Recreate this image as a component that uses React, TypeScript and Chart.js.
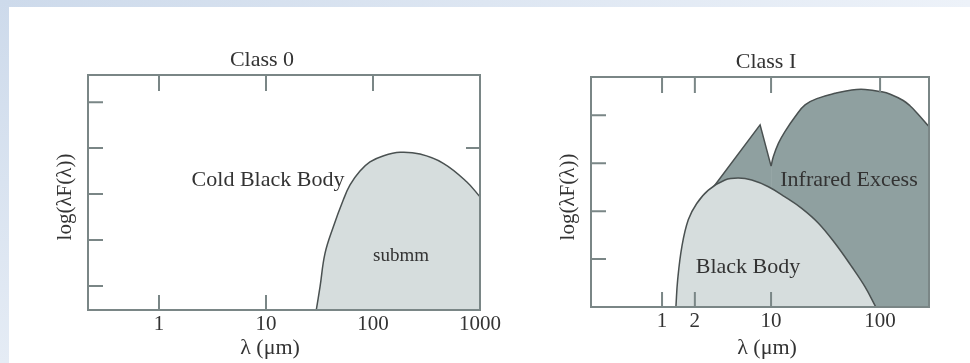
import React, { useEffect, useRef } from "react";
import { Chart, registerables } from "chart.js";

Chart.register(...registerables);

const SERIF = '"Liberation Serif", "Times New Roman", serif';
const TEXT = "#333333";
const FRAME = "#7a8686";
const LINE = "#4a5151";
const LIGHT = "#d6dddd";
const DARK = "#8fa0a0";

// ---- Class 0 ----
const class0XTicks = [1, 10, 100, 1000];
const class0TopTicks = [1, 10, 100];
const class0BottomTicks = [1, 10];
const class0LeftTicks = [1, 2, 3, 4, 5];
const class0RightTicks = [4];
const class0Lambda = [29.5, 32.0, 35.6, 42.6, 52.7, 61.0, 75.6, 93.7, 124, 179, 275, 454, 750, 1000];
const class0Flux = [0.48, 0.99, 1.71, 2.29, 2.87, 3.2, 3.5, 3.7, 3.83, 3.91, 3.87, 3.67, 3.27, 2.94];

// ---- Class I ----
const class1XTicks = [1, 2, 10, 100];
const class1TopTicks = [1, 2, 10, 100];
const class1BottomTicks = [1, 2, 10];
const class1LeftTicks = [1, 2, 3, 4];
const class1RightTicks: number[] = [];
const class1BBLambda = [1.34, 1.39, 1.52, 1.74, 2.08, 2.66, 3.78, 5.01, 6.65, 9.45, 13.4, 19.1, 27.2, 38.6, 55.0, 72.8, 91.4];
const class1BBFlux = [0, 0.56, 1.26, 1.82, 2.16, 2.44, 2.65, 2.69, 2.65, 2.51, 2.3, 2.06, 1.75, 1.33, 0.84, 0.42, 0];
const class1JumpLambda = [3.0, 7.93, 10.0];
const class1JumpFlux = [2.52, 3.8, 2.94];
const class1IRLambda = [10.0, 10.5, 11.7, 13.4, 16.6, 20.5, 27.2, 38.6, 55.0, 72.8, 104, 124, 163, 188, 218, 282];
const class1IRFlux = [2.94, 3.14, 3.42, 3.66, 3.97, 4.22, 4.36, 4.46, 4.53, 4.54, 4.49, 4.44, 4.31, 4.2, 4.05, 3.76];

type TextSpec = { text: string; x: number; y: number; size: number; rotate?: boolean };
type Deco = {
  top: number[];
  bottom: number[];
  left: number[];
  right: number[];
  texts: TextSpec[];
};

function pts(xs: number[], ys: number[]) {
  return xs.map((x, i) => ({ x, y: ys[i] }));
}

function makeDeco(d: Deco) {
  return {
    id: "deco",
    afterDraw(chart: any) {
      const { ctx, chartArea: a, scales } = chart;
      const sx = scales.x;
      const sy = scales.y;
      ctx.save();
      ctx.strokeStyle = FRAME;
      ctx.lineWidth = 2;
      ctx.beginPath();
      d.top.forEach((v) => {
        const p = sx.getPixelForValue(v);
        ctx.moveTo(p, a.top);
        ctx.lineTo(p, a.top + 16);
      });
      d.bottom.forEach((v) => {
        const p = sx.getPixelForValue(v);
        ctx.moveTo(p, a.bottom);
        ctx.lineTo(p, a.bottom - 15);
      });
      d.left.forEach((v) => {
        const p = sy.getPixelForValue(v);
        ctx.moveTo(a.left, p);
        ctx.lineTo(a.left + 15, p);
      });
      d.right.forEach((v) => {
        const p = sy.getPixelForValue(v);
        ctx.moveTo(a.right, p);
        ctx.lineTo(a.right - 14, p);
      });
      ctx.stroke();
      ctx.strokeRect(a.left, a.top, a.right - a.left, a.bottom - a.top);

      ctx.fillStyle = TEXT;
      ctx.textAlign = "center";
      ctx.textBaseline = "middle";
      d.texts.forEach((t) => {
        ctx.font = `${t.size}px ${SERIF}`;
        if (t.rotate) {
          ctx.save();
          ctx.translate(t.x, t.y);
          ctx.rotate(-Math.PI / 2);
          ctx.fillText(t.text, 0, 0);
          ctx.restore();
        } else {
          ctx.fillText(t.text, t.x, t.y);
        }
      });
      ctx.restore();
    },
  };
}

type Spec = {
  datasets: any[];
  xMin: number;
  xMax: number;
  yMin: number;
  yMax: number;
  xTicks: number[];
  padTop: number;
  padRight: number;
  yAxisW: number;
  xAxisH: number;
  deco: Deco;
};

function buildConfig(s: Spec): any {
  return {
    type: "line",
    data: { datasets: s.datasets },
    options: {
      animation: false,
      responsive: false,
      devicePixelRatio: 1,
      layout: { padding: { left: 0, top: s.padTop, right: s.padRight, bottom: 0 } },
      plugins: {
        legend: { display: false },
        tooltip: { enabled: false },
        title: { display: false },
      },
      elements: { point: { radius: 0 } },
      scales: {
        x: {
          type: "logarithmic",
          min: s.xMin,
          max: s.xMax,
          afterBuildTicks: (ax: any) => {
            ax.ticks = s.xTicks.map((v) => ({ value: v }));
          },
          afterFit: (ax: any) => {
            ax.height = s.xAxisH;
          },
          grid: { display: false },
          border: { display: false },
          ticks: {
            autoSkip: false,
            maxRotation: 0,
            padding: 0,
            color: TEXT,
            font: { family: SERIF, size: 21, lineHeight: 0.65 },
            callback: (v: any) => String(v),
          },
        },
        y: {
          type: "linear",
          min: s.yMin,
          max: s.yMax,
          afterFit: (ax: any) => {
            ax.width = s.yAxisW;
          },
          grid: { display: false },
          border: { display: false },
          ticks: { display: false },
        },
      },
    },
    plugins: [makeDeco(s.deco)],
  };
}

const class0Spec: Spec = {
  datasets: [
    {
      data: pts(class0Lambda, class0Flux),
      borderColor: LINE,
      borderWidth: 1.5,
      backgroundColor: LIGHT,
      fill: "start",
      pointRadius: 0,
      tension: 0.4,
    },
  ],
  xMin: 0.217,
  xMax: 1000,
  yMin: 0.48,
  yMax: 5.59,
  xTicks: class0XTicks,
  padTop: 75,
  padRight: 40,
  yAxisW: 88,
  xAxisH: 53,
  deco: {
    top: class0TopTicks,
    bottom: class0BottomTicks,
    left: class0LeftTicks,
    right: class0RightTicks,
    texts: [
      { text: "Class 0", x: 262, y: 60, size: 22 },
      { text: "log(λF(λ))", x: 65, y: 197, size: 21, rotate: true },
      { text: "λ (μm)", x: 270, y: 348, size: 22 },
      { text: "Cold Black Body", x: 268, y: 180, size: 22 },
      { text: "submm", x: 401, y: 256, size: 19 },
    ],
  },
};

const class1Spec: Spec = {
  datasets: [
    {
      data: pts(class1BBLambda, class1BBFlux),
      borderColor: LINE,
      borderWidth: 1.5,
      backgroundColor: LIGHT,
      fill: "start",
      pointRadius: 0,
      tension: 0.4,
    },
    {
      data: pts(class1JumpLambda, class1JumpFlux),
      borderColor: LINE,
      borderWidth: 1.5,
      backgroundColor: DARK,
      fill: "start",
      pointRadius: 0,
      tension: 0,
    },
    {
      data: pts(class1IRLambda, class1IRFlux),
      borderColor: LINE,
      borderWidth: 1.5,
      backgroundColor: DARK,
      fill: "start",
      pointRadius: 0,
      tension: 0.4,
    },
  ],
  xMin: 0.223,
  xMax: 281,
  yMin: 0,
  yMax: 4.8,
  xTicks: class1XTicks,
  padTop: 77,
  padRight: 41,
  yAxisW: 106,
  xAxisH: 56,
  deco: {
    top: class1TopTicks,
    bottom: class1BottomTicks,
    left: class1LeftTicks,
    right: class1RightTicks,
    texts: [
      { text: "Class I", x: 281, y: 62, size: 22 },
      { text: "log(λF(λ))", x: 83, y: 197, size: 21, rotate: true },
      { text: "λ (μm)", x: 282, y: 348, size: 22 },
      { text: "Infrared Excess", x: 364, y: 180, size: 22 },
      { text: "Black Body", x: 263, y: 267, size: 22 },
    ],
  },
};

function SedChart({ spec, left, width }: { spec: Spec; left: number; width: number }) {
  const ref = useRef<HTMLCanvasElement>(null);
  useEffect(() => {
    if (!ref.current) return;
    const chart = new Chart(ref.current, buildConfig(spec));
    return () => chart.destroy();
  }, [spec]);
  return (
    <canvas
      ref={ref}
      width={width}
      height={363}
      style={{ position: "absolute", left, top: 0, width, height: 363, display: "block" }}
    />
  );
}

export default function App() {
  return (
    <div
      style={{
        position: "fixed",
        left: 0,
        top: 0,
        width: 970,
        height: 363,
        background: "#ffffff",
        overflow: "hidden",
      }}
    >
      <div
        style={{
          position: "absolute",
          left: 0,
          top: 0,
          width: 970,
          height: 7,
          background: "linear-gradient(to right, #cddaeb, #dde6f2 50%, #edf2f9)",
        }}
      />
      <div
        style={{
          position: "absolute",
          left: 0,
          top: 0,
          width: 9,
          height: 363,
          background: "linear-gradient(to bottom, #cddaeb, #e5ecf5)",
        }}
      />
      <SedChart spec={class0Spec} left={0} width={520} />
      <SedChart spec={class1Spec} left={485} width={485} />
    </div>
  );
}
